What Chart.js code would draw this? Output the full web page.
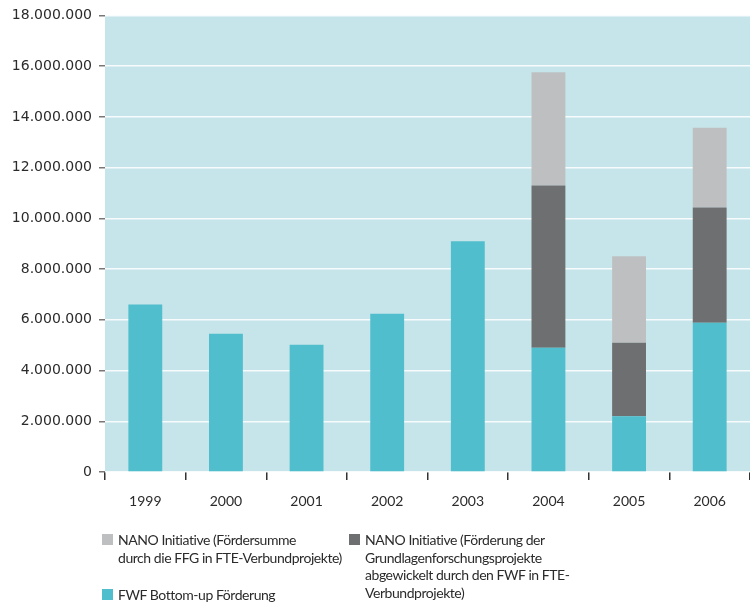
<!DOCTYPE html>
<html>
<head>
<meta charset="utf-8">
<script src="https://cdn.jsdelivr.net/npm/chart.js@4.4.1/dist/chart.umd.min.js"></script>
<style>
    body { margin: 0; background: #fff; }
    #wrap { position: relative; width: 750px; height: 604px; }
    #chartBox { position: absolute; left: 0; top: 0; width: 750px; height: 515px; }
    .chart-legend { position: absolute; left: 0; top: 0; width: 750px; height: 604px; pointer-events: none; }
    .chart-legend-item { position: absolute; font-family: Lato, sans-serif; font-size: 14px; letter-spacing: -0.45px; line-height: 17.5px; color: #2b2b2b; white-space: nowrap; }
    .legend-color { position: absolute; width: 11px; height: 11px; left: -16px; top: 3px; }
</style>
</head>
<body>
<div id="wrap">
    <div id="chartBox"><canvas id="fundingChart"></canvas></div>
    <div class="chart-legend"></div>
</div>
<script>
const years = ['1999', '2000', '2001', '2002', '2003', '2004', '2005', '2006'];
const fwfBottomUp = [6600000, 5450000, 5020000, 6240000, 9100000, 4900000, 2200000, 5880000];
const nanoFwf = [0, 0, 0, 0, 0, 6390000, 2900000, 4550000];
const nanoFfg = [0, 0, 0, 0, 0, 4470000, 3410000, 3140000];
const yTicks = [0, 2000000, 4000000, 6000000, 8000000, 10000000, 12000000, 14000000, 16000000, 18000000];

const legendLines = {
    ffg: ['NANO Initiative (Fördersumme', 'durch die FFG in FTE-Verbundprojekte)'],
    fwf: ['NANO Initiative (Förderung der', 'Grundlagenforschungsprojekte', 'abgewickelt durch den FWF in FTE-', 'Verbundprojekte)'],
    bottomUp: ['FWF Bottom-up Förderung']
};

const plotBackground = {
    id: 'plotBackground',
    beforeDraw(chart) {
        const { ctx, chartArea } = chart;
        ctx.save();
        ctx.fillStyle = '#C6E5EA';
        ctx.fillRect(chartArea.left, chartArea.top, chartArea.right - chartArea.left, chartArea.bottom - chartArea.top);
        ctx.restore();
    }
};

window.onload = function () {
    const ctx = document.getElementById('fundingChart').getContext('2d');

    const chart = new Chart(ctx, {
        type: 'bar',
        data: {
            labels: years,
            datasets: [
                { key: 'bottomUp', label: 'FWF Bottom-up Förderung', data: fwfBottomUp, backgroundColor: '#50BECC' },
                { key: 'fwf', label: 'NANO Initiative (Förderung der Grundlagenforschungsprojekte abgewickelt durch den FWF in FTE-Verbundprojekte)', data: nanoFwf, backgroundColor: '#6E6F71' },
                { key: 'ffg', label: 'NANO Initiative (Fördersumme durch die FFG in FTE-Verbundprojekte)', data: nanoFfg, backgroundColor: '#BEBFC1' }
            ]
        },
        options: {
            responsive: true,
            maintainAspectRatio: false,
            animation: false,
            layout: { padding: { top: 12, right: 0, left: 0, bottom: 0 } },
            datasets: { bar: { barPercentage: 0.84, categoryPercentage: 0.5 } },
            plugins: {
                legend: { display: false },
                tooltip: { enabled: false }
            },
            scales: {
                x: {
                    stacked: true,
                    border: { display: false },
                    grid: { offset: true, drawOnChartArea: false, drawTicks: true, tickLength: 8, tickColor: '#333', lineWidth: 1.5 },
                    ticks: { padding: 13, color: '#2b2b2b', font: { family: 'Lato', size: 14 } },
                    afterFit: scale => { scale.height = 43; }
                },
                y: {
                    stacked: true,
                    min: 0,
                    max: 18000000,
                    border: { display: false },
                    grid: { color: 'rgba(255,255,255,0.85)', lineWidth: 1.5, tickLength: 6, tickColor: '#777', tickWidth: 1.5 },
                    afterBuildTicks: scale => { scale.ticks = yTicks.map(v => ({ value: v })); },
                    ticks: {
                        padding: 7,
                        color: '#2b2b2b',
                        font: { family: 'DejaVu Sans', size: 14 },
                        callback: v => v.toString().replace(/\B(?=(\d{3})+(?!\d))/g, '.')
                    },
                    afterFit: scale => { scale.width = 105; }
                }
            }
        },
        plugins: [plotBackground]
    });

    // legend in the bottom, built from the datasets
    const legendContainer = document.querySelector('.chart-legend');
    const legendPos = { ffg: [118, 531], fwf: [365, 531], bottomUp: [118, 586] };
    chart.data.datasets.forEach(ds => {
        const legendItem = document.createElement('div');
        legendItem.classList.add('chart-legend-item');
        legendItem.style.left = legendPos[ds.key][0] + 'px';
        legendItem.style.top = legendPos[ds.key][1] + 'px';

        const colorBox = document.createElement('div');
        colorBox.classList.add('legend-color');
        colorBox.style.backgroundColor = ds.backgroundColor;

        const labelText = document.createElement('span');
        labelText.innerHTML = legendLines[ds.key].join('<br>');

        legendItem.appendChild(colorBox);
        legendItem.appendChild(labelText);
        legendContainer.appendChild(legendItem);
    });
};
</script>
</body>
</html>
